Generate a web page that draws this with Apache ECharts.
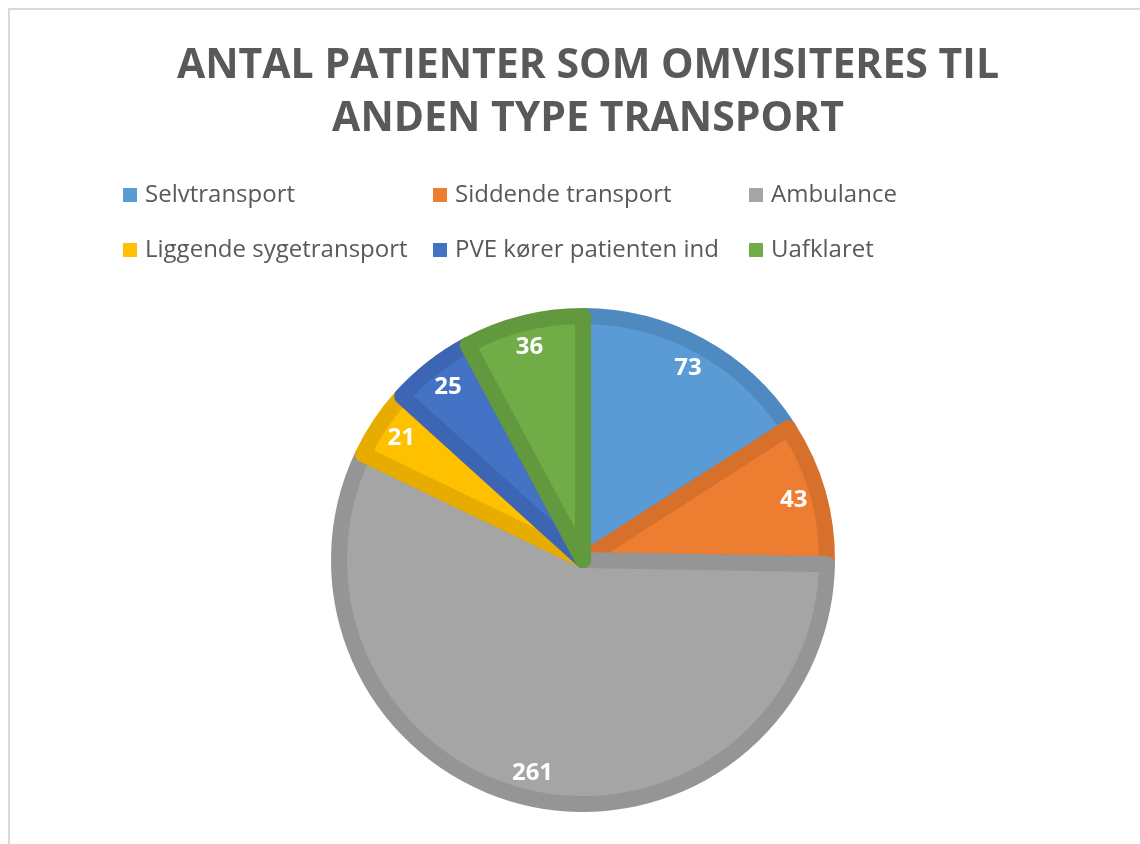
<!DOCTYPE html>
<html>
<head>
<meta charset="utf-8">
<script src="https://cdn.jsdelivr.net/npm/echarts@6/dist/echarts.min.js"></script>
<style>
  html, body { margin: 0; padding: 0; background: #fff; }
  #chart { width: 1140px; height: 844px; }
</style>
</head>
<body>
<div id="chart"></div>
<script>
const categories = [
  "Selvtransport",
  "Siddende transport",
  "Ambulance",
  "Liggende sygetransport",
  "PVE kører patienten ind",
  "Uafklaret",
];
const patientCounts = [73, 43, 261, 21, 25, 36];
const fillColors = ["#5B9BD5", "#ED7D31", "#A5A5A5", "#FFC000", "#4472C4", "#70AD47"];
const edgeColors = ["#4E8AC0", "#D6702B", "#959595", "#E6AD00", "#3C66B3", "#62993E"];
const titleText = "ANTAL PATIENTER SOM OMVISITERES TIL\nANDEN TYPE TRANSPORT";

// legend is laid out as 3 columns x 2 rows like the excel original
const legendColumns = [
  [categories[0], categories[3]],
  [categories[1], categories[4]],
  [categories[2], categories[5]],
];
const legendLefts = [123, 433, 749];

const font = "'Open Sans', 'Noto Sans', sans-serif";

const pieData = categories.map((name, i) => ({
  name,
  value: patientCounts[i],
  itemStyle: { color: fillColors[i], borderColor: edgeColors[i] },
}));

const chart = echarts.init(document.getElementById("chart"), null, { renderer: "canvas" });

chart.setOption({
  backgroundColor: "#fff",
  animation: false,
  graphic: [
    {
      type: "rect",
      shape: { x: 9, y: 9, width: 1300, height: 1000 },
      style: { fill: "none", stroke: "#D9D9D9", lineWidth: 2 },
      silent: true,
    },
  ],
  title: {
    text: titleText,
    left: 583,
    top: 35,
    textAlign: "center",
    textStyle: {
      fontFamily: font,
      fontSize: 41,
      fontWeight: "bold",
      color: "#595959",
      lineHeight: 53,
    },
  },
  legend: legendColumns.map((col, i) => ({
    data: col,
    orient: "vertical",
    left: legendLefts[i],
    top: 180,
    padding: 0,
    itemGap: 25,
    itemWidth: 14,
    itemHeight: 14,
    icon: "rect",
    itemStyle: { borderWidth: 0 },
    selectedMode: false,
    textStyle: {
      fontFamily: font,
      fontSize: 24,
      color: "#595959",
      lineHeight: 30,
      padding: [0, 0, 0, 3],
    },
  })),
  series: [
    {
      name: "Patienter",
      type: "pie",
      center: [583, 560],
      radius: [0, 244],
      startAngle: 90,
      clockwise: true,
      silent: true,
      data: pieData,
      itemStyle: { borderWidth: 16 },
      label: { show: false },
      labelLine: { show: false },
      emphasis: { disabled: true },
    },
    {
      // transparent ring only used to place the value labels near the rim
      name: "labels",
      type: "pie",
      center: [583, 560],
      radius: [180, 252],
      startAngle: 90,
      clockwise: true,
      silent: true,
      data: categories.map((name, i) => ({ name, value: patientCounts[i] })),
      itemStyle: { color: "transparent", borderWidth: 0 },
      label: {
        show: true,
        position: "inside",
        formatter: "{c}",
        fontFamily: font,
        fontSize: 24,
        fontWeight: "bold",
        color: "#fff",
      },
      labelLine: { show: false },
      emphasis: { disabled: true },
    },
  ],
});
</script>
</body>
</html>
